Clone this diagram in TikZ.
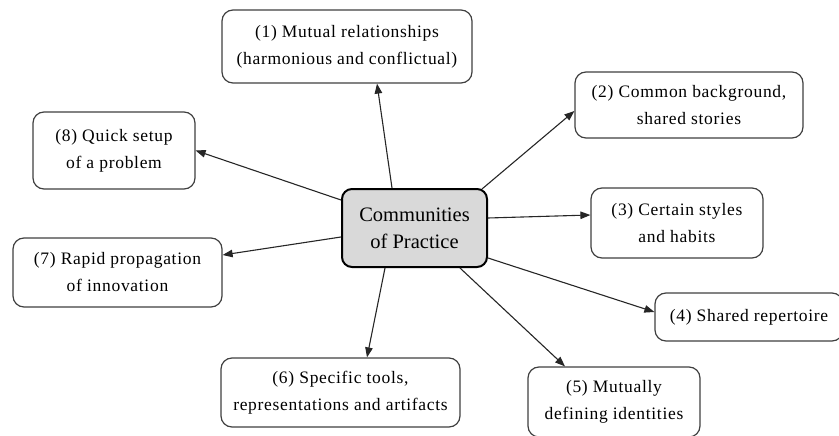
\documentclass[tikz,border=0pt]{standalone}
\usepackage{fontspec}
\setmainfont{Liberation Serif}
\newfontfamily\boxfont[LetterSpace=4]{Liberation Serif}
\usetikzlibrary{arrows.meta,positioning}

\begin{document}
\begin{tikzpicture}[
  x=1pt, y=-1pt,
  box/.style={draw=black!75, line width=1.2pt, rounded corners=11pt, align=center, inner sep=0pt,
    fill=white, font=\boxfont\fontsize{17.5}{27}\selectfont},
  hub/.style={draw=black, line width=2pt, rounded corners=10pt, align=center, inner sep=0pt,
    fill=black!15, font=\fontsize{20.5}{27}\selectfont},
  arrow/.style={-{Triangle[length=10pt,width=7.5pt]}, line width=1.1pt, black!85}
]
\useasboundingbox (0,0) rectangle (839,436);

\node[hub, minimum width=145pt, minimum height=78pt] (cop) at (414.5,228) {Communities\\of Practice};

\node[box, minimum width=250pt, minimum height=73pt] (m1) at (347,46.5) {(1) Mutual relationships\\(harmonious and conflictual)};
\node[box, minimum width=228pt, minimum height=66pt] (m2) at (689,105) {(2) Common background,\\shared stories};
\node[box, minimum width=172pt, minimum height=70pt] (m3) at (677,223) {(3) Certain styles\\and habits};
\node[box, minimum width=188pt, minimum height=48pt] (m4) at (749,317) {(4) Shared repertoire};
\node[box, minimum width=172pt, minimum height=70pt] (m5) at (614,402) {(5) Mutually\\defining identities};
\node[box, minimum width=239pt, minimum height=69pt] (m6) at (340.5,392.5) {(6) Specific tools,\\representations and artifacts};
\node[box, minimum width=209pt, minimum height=69pt] (m7) at (117.5,272.5) {(7) Rapid propagation\\of innovation};
\node[box, minimum width=162pt, minimum height=77pt] (m8) at (114,150.5) {(8) Quick setup\\of a problem};

\draw[arrow] ([xshift=-22.5pt]cop.north) -- ([xshift=30pt]m1.south);
\draw[arrow] ([xshift=-6pt,yshift=-1pt]cop.north east) -- ([yshift=-6pt]m2.west);
\draw[arrow] ([yshift=10pt]cop.east) -- ([yshift=8pt]m3.west);
\draw[arrow] ([yshift=-30pt]cop.east) -- ([yshift=5pt]m4.west);
\draw[arrow] ([xshift=45.5pt]cop.south) -- ([xshift=-49pt]m5.north);
\draw[arrow] ([xshift=-29.5pt]cop.south) -- ([xshift=26.5pt]m6.north);
\draw[arrow] ([yshift=-9pt]cop.west) -- ([yshift=17.5pt]m7.east);
\draw[arrow] ([yshift=28pt]cop.west) -- (m8.east);
\end{tikzpicture}
\end{document}
